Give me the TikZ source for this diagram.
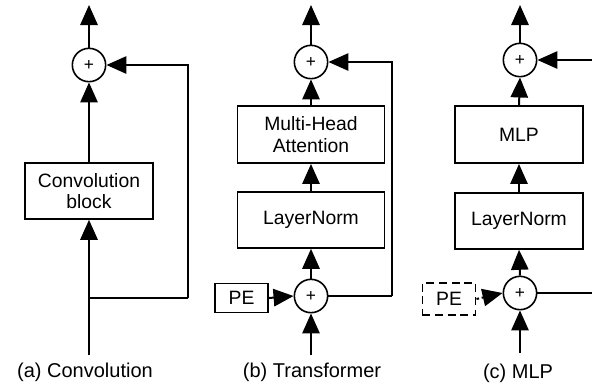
\documentclass[tikz,border=0pt]{standalone}
\usepackage{fontspec}
\setmainfont{Liberation Sans}
\usetikzlibrary{arrows.meta}

\tikzset{
  blk/.style={draw,line width=1.2pt,minimum width=#1,minimum height=42pt,inner sep=0pt,align=center,font=\fontsize{14.5}{16}\selectfont},
  blk/.default=96pt,
  addop/.style={draw,circle,line width=1.2pt,minimum size=25pt,inner sep=0pt,font=\fontsize{13}{13}\selectfont},
  flow/.style={line width=1.5pt,-{Triangle[length=15pt,width=13pt]}},
  wire/.style={line width=1.5pt},
  pedash/.style={dash pattern=on 6pt off 3.5pt},
  subcap/.style={font=\fontsize{15}{16}\selectfont},
}

\begin{document}
\begin{tikzpicture}[x=0.75pt,y=0.75pt,yscale=-1,xscale=1]
\useasboundingbox (0,0) rectangle (592,387);

%(a) convolution
\node [addop] (plusA) at (89,65) {+};
\node [blk] (convA) at (89,191) {Convolution\\block};
\coordinate (inA) at (89,355);
\coordinate (splitA) at (89,298);
\coordinate (cornerA) at (188,298);
\coordinate (outA) at (89,5);
\draw [flow] (inA) -- (convA.south);
\draw [flow] (convA.north) -- (plusA.south);
\draw [flow] (plusA.north) -- (outA);
\draw [wire] (splitA) -- (cornerA);
\draw [flow] (cornerA) |- (plusA.east);

%(b) transformer
\node [addop] (plusB2) at (311,62) {+};
\node [blk=110pt,minimum height=43pt] (attnB) at (311,134.5) {Multi-Head\\Attention};
\node [blk=110pt] (lnB) at (311,220) {LayerNorm};
\node [addop] (plusB1) at (311,296) {+};
\node [blk=40pt,minimum height=22pt] (peB) at (241.5,298) {PE};
\coordinate (inB) at (311,355);
\coordinate (outB) at (311,5);
\coordinate (cornerB) at (392,296);
\draw [flow] (inB) -- (plusB1.south);
\draw [flow] (peB.east) -- (plusB1.west);
\draw [flow] (plusB1.north) -- (lnB.south);
\draw [flow] (lnB.north) -- (attnB.south);
\draw [flow] (attnB.north) -- (plusB2.south);
\draw [flow] (plusB2.north) -- (outB);
\draw [wire] (plusB1.east) -- (cornerB);
\draw [flow] (cornerB) |- (plusB2.east);

%(c) mlp
\node [addop] (plusC2) at (520,60) {+};
\node [blk,minimum height=43pt] (mlpC) at (519,134.5) {MLP};
\node [blk] (lnC) at (519,221) {LayerNorm};
\node [addop] (plusC1) at (520,293) {+};
\node [blk=40pt,minimum height=24pt,pedash] (peC) at (449,299) {PE};
\coordinate (inC) at (520,353);
\coordinate (outC) at (520,5);
\coordinate (skipC1) at (592,293);
\coordinate (skipC2) at (592,60);
\draw [flow] (inC) -- (plusC1.south);
\draw [flow,dash pattern=on 2pt off 2pt] (peC.east) -- (plusC1.west);
\draw [flow] (plusC1.north) -- (lnC.south);
\draw [flow] (lnC.north) -- (mlpC.south);
\draw [flow] (mlpC.north) -- (plusC2.south);
\draw [flow] (plusC2.north) -- (outC);
\draw [wire] (plusC1.east) -- (skipC1);
\draw [flow] (skipC2) -- (plusC2.east);

% captions
\node [subcap] (capA) at (85,372) {(a) Convolution};
\node [subcap] (capB) at (312,372) {(b) Transformer};
\node [subcap] (capC) at (518,373) {(c) MLP};
\end{tikzpicture}
\end{document}
